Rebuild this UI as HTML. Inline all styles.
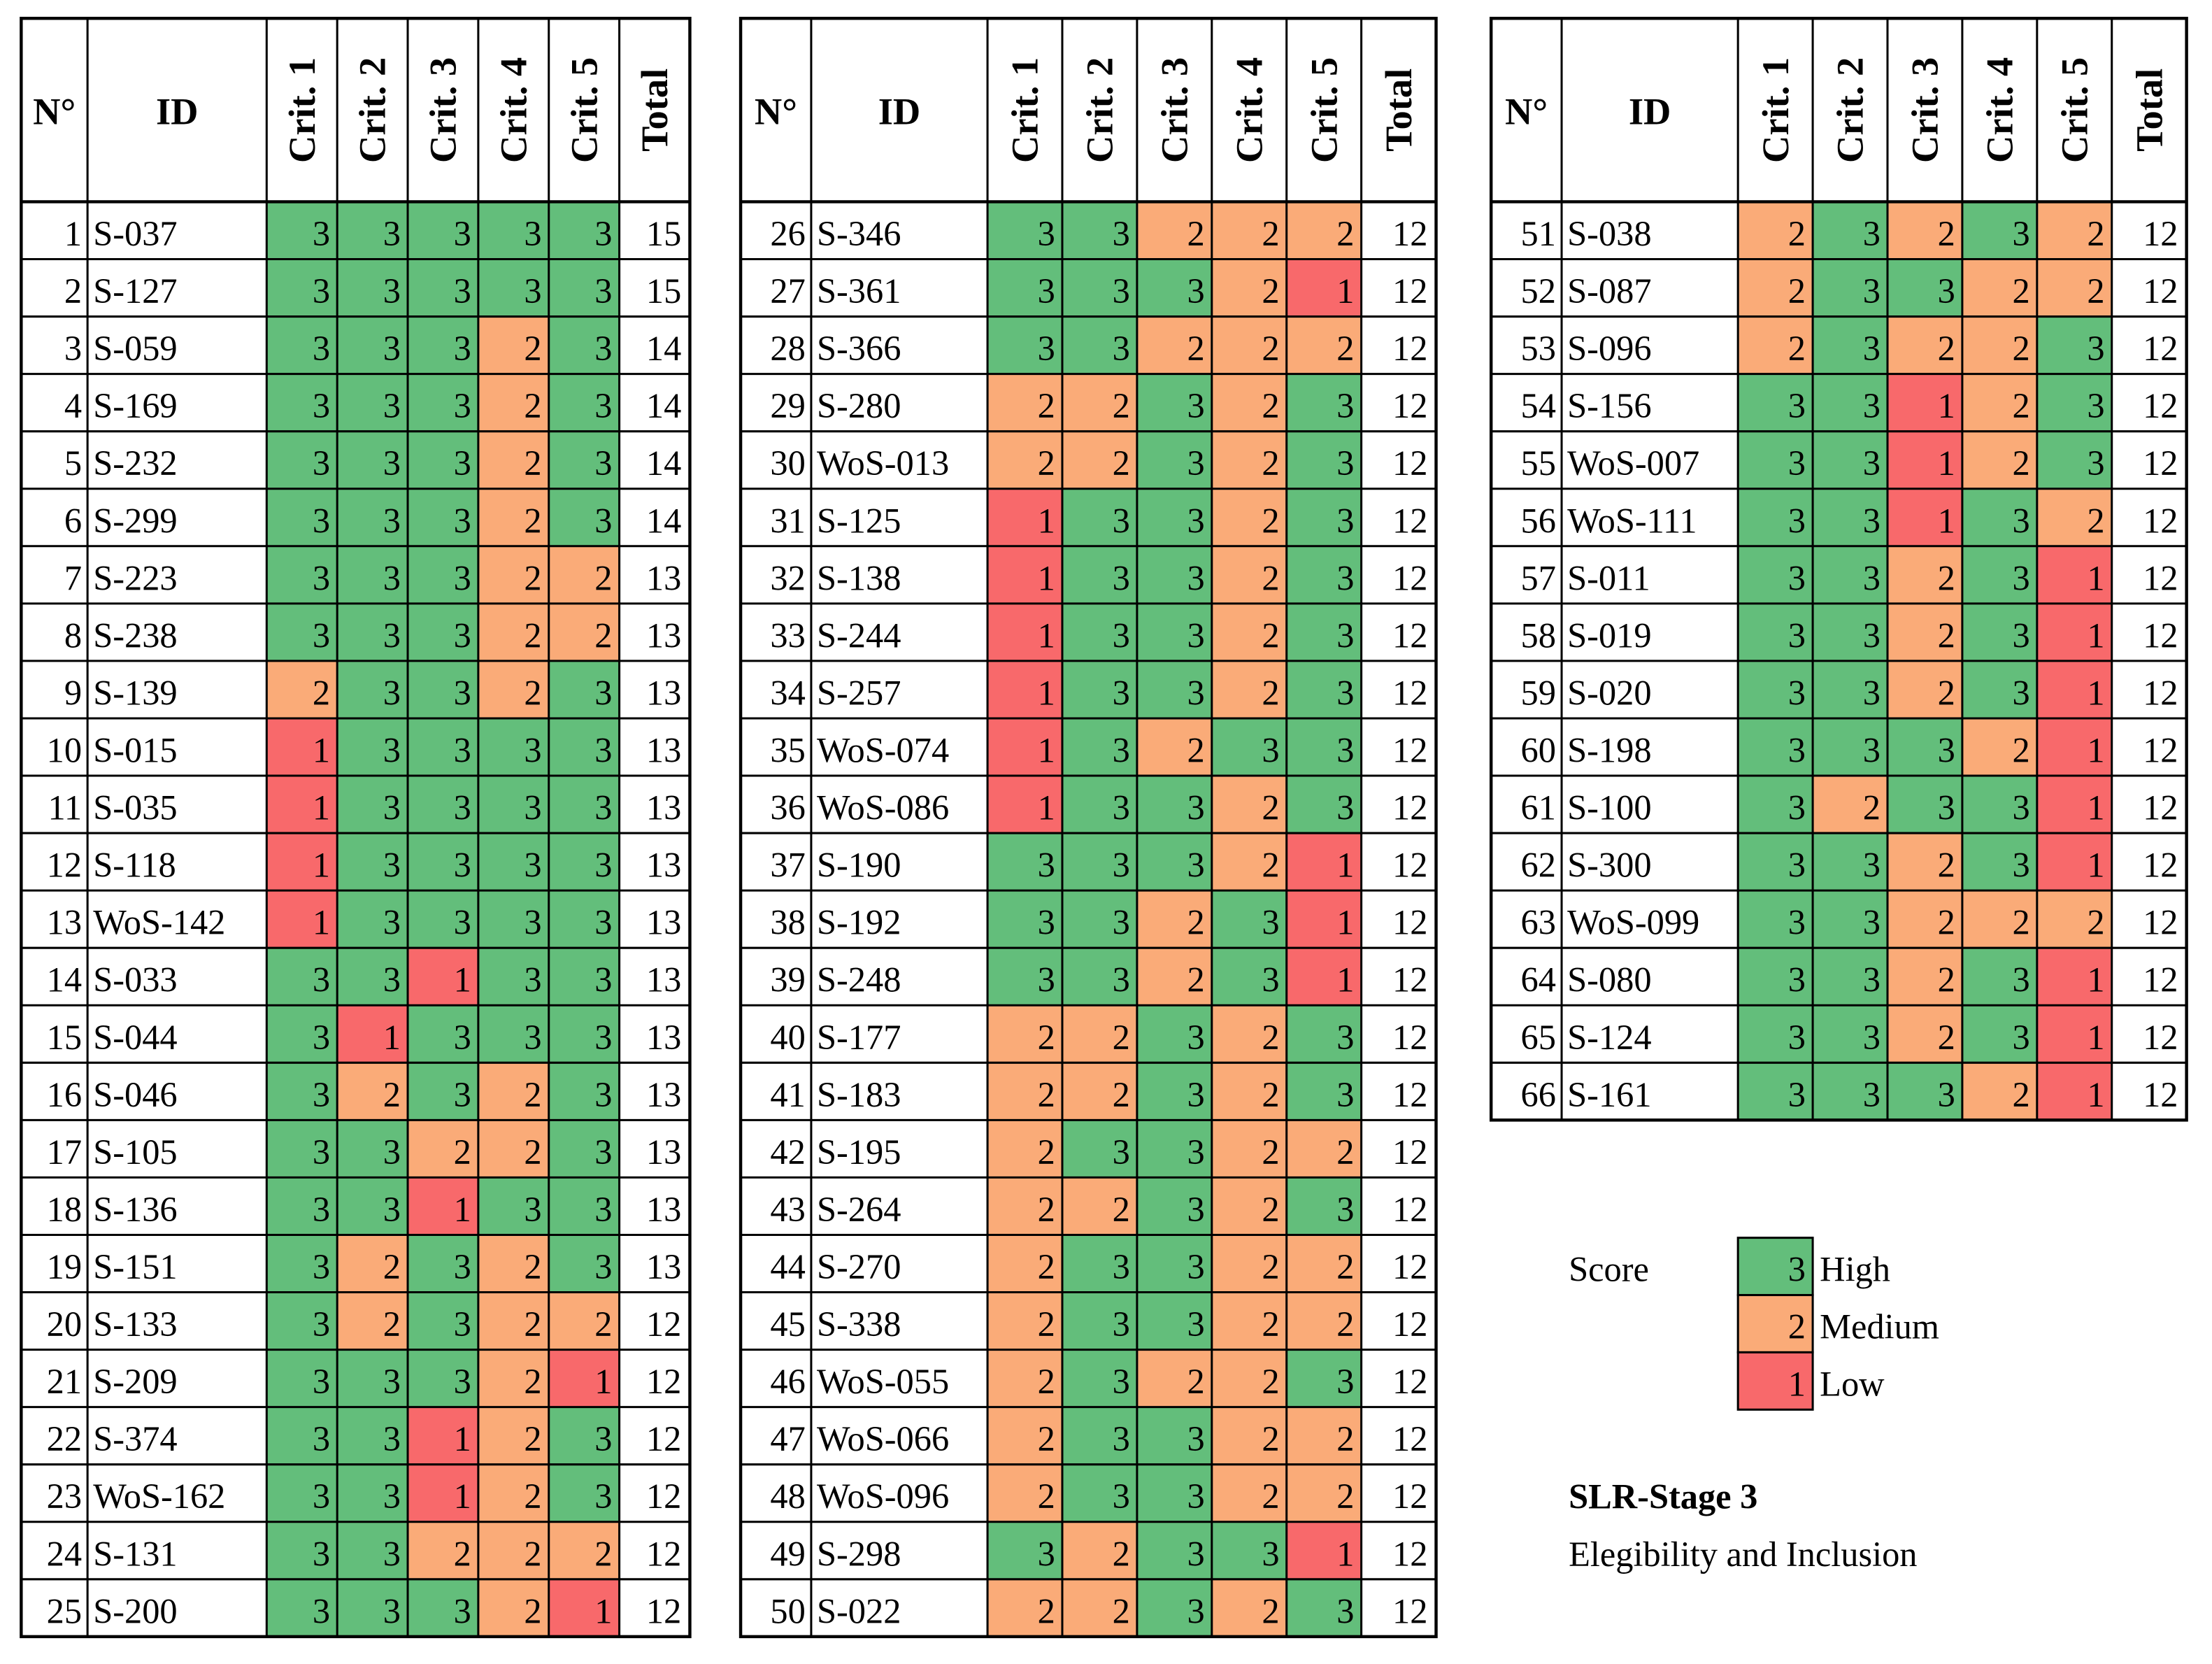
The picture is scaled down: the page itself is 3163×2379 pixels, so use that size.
<!DOCTYPE html>
<html><head><meta charset="utf-8"><style>
html,body{margin:0;padding:0;background:#fff;}
svg{display:block;}
text{font-family:"Liberation Serif",serif;}
</style></head><body>
<svg id="chart" xmlns="http://www.w3.org/2000/svg" width="3163" height="2379" viewBox="0 0 1568 1179.4">
<rect x="0" y="0" width="1568" height="1180" fill="#fff"/>
<g id="tables"></g>
<g id="legend">
  <text x="1112" y="908" font-size="25">Score</text>
  <rect x="1232" y="877.3" width="53" height="40.6" fill="#63BE7B" stroke="#000" stroke-width="1.5"/>
  <rect x="1232" y="917.9" width="53" height="40.6" fill="#FAAB78" stroke="#000" stroke-width="1.5"/>
  <rect x="1232" y="958.5" width="53" height="40.6" fill="#F8696B" stroke="#000" stroke-width="1.5"/>
  <text x="1280" y="908" font-size="25" text-anchor="end">3</text>
  <text x="1280" y="948.6" font-size="25" text-anchor="end">2</text>
  <text x="1280" y="989.2" font-size="25" text-anchor="end">1</text>
  <text x="1290" y="908" font-size="25">High</text>
  <text x="1290" y="948.6" font-size="25">Medium</text>
  <text x="1290" y="989.2" font-size="25">Low</text>
  <text x="1112" y="1069" font-size="25" font-weight="bold">SLR-Stage 3</text>
  <text x="1112" y="1110" font-size="25">Elegibility and Inclusion</text>
</g>
</svg>
<script>
const ids = ["S-037","S-127","S-059","S-169","S-232","S-299","S-223","S-238","S-139","S-015","S-035","S-118","WoS-142","S-033","S-044","S-046","S-105","S-136","S-151","S-133","S-209","S-374","WoS-162","S-131","S-200",
"S-346","S-361","S-366","S-280","WoS-013","S-125","S-138","S-244","S-257","WoS-074","WoS-086","S-190","S-192","S-248","S-177","S-183","S-195","S-264","S-270","S-338","WoS-055","WoS-066","WoS-096","S-298","S-022",
"S-038","S-087","S-096","S-156","WoS-007","WoS-111","S-011","S-019","S-020","S-198","S-100","S-300","WoS-099","S-080","S-124","S-161"];
const scores = ["33333","33333","33323","33323","33323","33323","33322","33322","23323","13333","13333","13333","13333","33133","31333","32323","33223","33133","32323","32322","33321","33123","33123","33222","33321",
"33222","33321","33222","22323","22323","13323","13323","13323","13323","13233","13323","33321","33231","33231","22323","22323","23322","22323","23322","23322","23223","23322","23322","32331","22323",
"23232","23322","23223","33123","33123","33132","33231","33231","33231","33321","32331","33231","33222","33231","33231","33321"];
const headers = ["Crit. 1","Crit. 2","Crit. 3","Crit. 4","Crit. 5","Total"];
const colors = {"3":"#63BE7B","2":"#FAAB78","1":"#F8696B"};

const NS="http://www.w3.org/2000/svg";
const tablesG=document.getElementById('tables');
function mk(tag,attrs,parent){const e=document.createElementNS(NS,tag);for(const k in attrs)e.setAttribute(k,attrs[k]);parent.appendChild(e);return e;}
const layouts=[
 {cols:[15,62,189,239,289,339,389,439,489],start:0,n:25},
 {cols:[525,575,700,753,806,859,912,965,1018],start:25,n:25},
 {cols:[1057,1107,1232,1285,1338,1391,1444,1497,1550],start:50,n:16}
];
const topY=13, hb=143, rh=40.68;
layouts.forEach((L,ti)=>{
  const tg=mk('g',{},tablesG);
  
  
  const c=L.cols, bottom=hb+L.n*rh;
  for(let r=0;r<L.n;r++){
    const i=L.start+r, y=hb+r*rh;
    const row=mk('g',{},tg);
    
    
    const s=scores[i]; let tot=0;
    for(let k=0;k<5;k++){
      const v=s[k]; tot+=+v;
      const cell=mk('rect',{x:c[2+k],y:y,width:c[3+k]-c[2+k],height:rh,fill:colors[v]},row);
      
      
      mk('text',{x:c[3+k]-5,y:y+31,'font-size':25,'text-anchor':'end'},row).textContent=v;
    }
    mk('text',{x:c[1]-4,y:y+31,'font-size':25,'text-anchor':'end'},row).textContent=String(i+1);
    mk('text',{x:c[1]+4,y:y+31,'font-size':25},row).textContent=ids[i];
    mk('text',{x:c[8]-6,y:y+31,'font-size':25,'text-anchor':'end'},row).textContent=String(tot);
  }
  mk('text',{x:(c[0]+c[1])/2,y:88,'font-size':27,'font-weight':'bold','text-anchor':'middle'},tg).textContent="N°";
  mk('text',{x:(c[1]+c[2])/2,y:88,'font-size':27,'font-weight':'bold','text-anchor':'middle'},tg).textContent="ID";
  headers.forEach((h,k)=>{
    const cx=(c[2+k]+c[3+k])/2+9;
    const t=mk('text',{x:0,y:0,'font-size':27,'font-weight':'bold','text-anchor':'middle',transform:'translate('+cx+',78) rotate(-90)'},tg);
    t.textContent=h;
    
    
  });
  for(let r=1;r<L.n;r++){const y=hb+r*rh;mk('line',{x1:c[0],x2:c[8],y1:y,y2:y,stroke:'#000','stroke-width':1.5},tg);}
  for(let k=1;k<8;k++){mk('line',{x1:c[k],x2:c[k],y1:topY,y2:bottom,stroke:'#000','stroke-width':1.5},tg);}
  mk('line',{x1:c[0],x2:c[8],y1:hb,y2:hb,stroke:'#000','stroke-width':2.2},tg);
  mk('rect',{x:c[0],y:topY,width:c[8]-c[0],height:bottom-topY,fill:'none',stroke:'#000','stroke-width':2.2},tg);
});
</script>
</body></html>
